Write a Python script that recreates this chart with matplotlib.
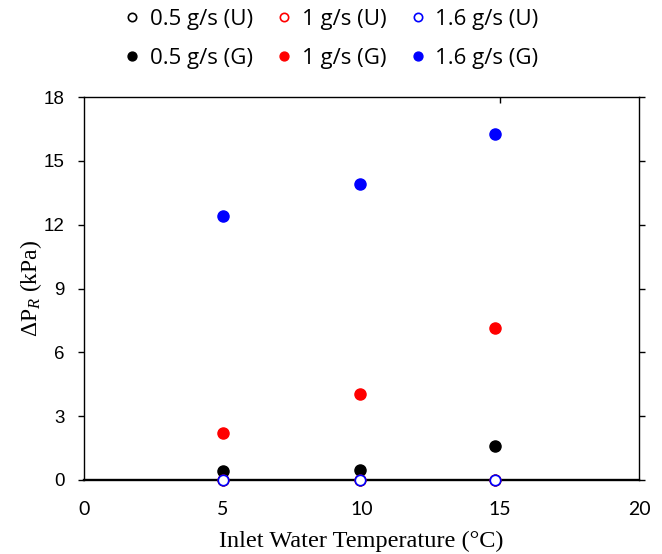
import numpy as np
import matplotlib
matplotlib.use("Agg")
import matplotlib.pyplot as plt

# inlet water temperature (C)
temps = [5.0, 9.95, 14.8]

# ungrooved (U) - all zero
dp_u_05 = [0.0, 0.0, 0.0]
dp_u_10 = [0.0, 0.0, 0.0]
dp_u_16 = [0.0, 0.0, 0.0]

# grooved (G)
dp_g_05 = [0.40, 0.47, 1.61]
dp_g_10 = [2.19, 4.04, 7.16]
dp_g_16 = [12.41, 13.93, 16.26]

labels = ["0.5 g/s", "1 g/s", "1.6 g/s"]
colors = ["black", "red", "blue"]

plt.rcParams['mathtext.fontset'] = 'custom'
plt.rcParams['mathtext.rm'] = 'Liberation Serif'
plt.rcParams['mathtext.it'] = 'Liberation Serif:italic'

fig = plt.figure(figsize=(6.62, 5.54), dpi=100)
ax = fig.add_axes([84/662, 74/554, 555/662, 383/554])

u_sets = [dp_u_05, dp_u_10, dp_u_16]
g_sets = [dp_g_05, dp_g_10, dp_g_16]

handles = []
for lab, col, u, g in zip(labels, colors, u_sets, g_sets):
    hu, = ax.plot(temps, u, 'o', ms=7.5, mfc='white', mec=col, mew=1.2,
                  linestyle='none', label=lab + " (U)", clip_on=False, zorder=3)
    hg, = ax.plot(temps, g, 'o', ms=8, color=col, linestyle='none',
                  label=lab + " (G)", clip_on=False, zorder=2)
    handles += [hu, hg]

ax.set_xlim(0, 20)
ax.set_ylim(0, 18)
ax.set_xticks([0, 5, 10, 15, 20])
ax.set_yticks(np.arange(0, 19, 3))
ax.set_xticks([0, 20], minor=True)

for s in ['left', 'top', 'right']:
    ax.spines[s].set_linewidth(1.0)
ax.spines['bottom'].set_linewidth(1.7)

ax.tick_params(axis='x', which='major', length=0, pad=15, labelsize=14)
ax.tick_params(axis='x', which='minor', length=4, width=1.0, direction='out')
ax.tick_params(axis='y', which='major', length=4, width=1.0, direction='out',
               right=True, pad=10, labelsize=13.5)
for t in ax.get_xticklabels():
    t.set_family('Lato')
for t in ax.get_yticklabels():
    t.set_family('Liberation Sans')

# odd little tick on the top spine at 15
top = ax.secondary_xaxis('top')
top.set_xticks([15])
top.tick_params(length=4, width=1.0, direction='in', labeltop=False)
top.spines['top'].set_visible(False)

ax.set_xlabel("Inlet Water Temperature (°C)", family='Liberation Serif',
              fontsize=17.5, labelpad=9)
ax.set_ylabel(r"ΔP$_{\it R}$ (kPa)", family='Liberation Serif', fontsize=17,
              labelpad=0)

fig.legend(handles=handles, ncol=3, loc='upper center',
           bbox_to_anchor=(0.5, 1.0), frameon=False,
           prop={'family': 'Open Sans', 'size': 16}, handletextpad=0.4,
           columnspacing=1.0, handlelength=0.8, labelspacing=0.8,
           borderaxespad=0.0, markerscale=0.8)

fig.savefig("out.png", dpi=100)
